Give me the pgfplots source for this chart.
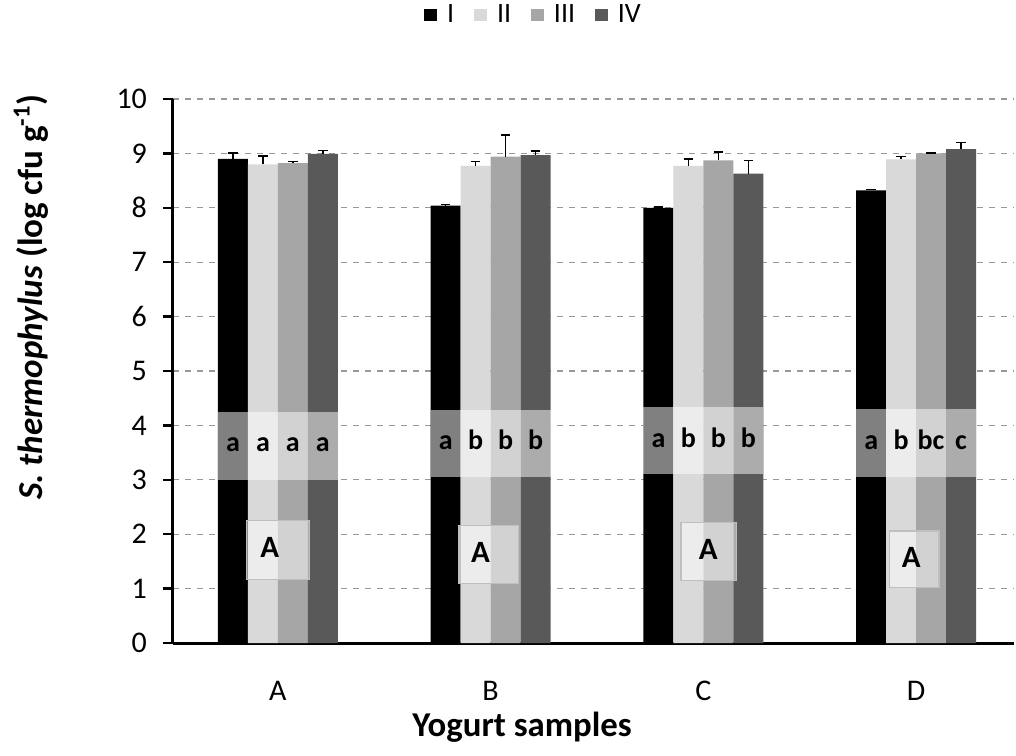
\documentclass[border=0pt]{standalone}
\usepackage{pgfplots}
\pgfplotsset{compat=1.18}
\usepackage{fontspec}
\setmainfont{Carlito}
\definecolor{cI}{HTML}{000000}
\definecolor{cII}{HTML}{D9D9D9}
\definecolor{cIII}{HTML}{A6A6A6}
\definecolor{cIV}{HTML}{595959}
\pgfplotsset{
  mybar/.style={fill=#1, draw=none,
    legend image code/.code={\fill[fill=#1] (0pt,-3.1pt) rectangle (6.4pt,3.3pt);},
    error bars/.cd, y dir=plus, y explicit,
    error bar style={black, line width=0.8pt},
    error mark options={rotate=90, black, mark size=2.4pt, line width=0.8pt}},
}
\begin{document}
\begin{tikzpicture}
\begin{axis}[name=ax, scale only axis, width=420.5pt, height=272pt,
  xmin=-0.493, xmax=3.46, ymin=0, ymax=10,
  ybar=0pt, bar width=15pt,
  xtick={0,1,2,3}, xticklabels={A,B,C,D}, xtick style={draw=none},
  ytick={0,1,...,10},
  ymajorgrids, grid style={dashed, black!40, line width=0.6pt},
  axis x line*=bottom, axis y line*=left,
  axis line style={-, line width=1.5pt},
  tick align=outside, major tick length=5pt,
  ytick style={line width=1.2pt, black},
  tick label style={font=\fontsize{15}{17}\selectfont},
  /pgf/number format/assume math mode=true,
  xticklabel style={yshift=-10.5pt},
  yticklabel style={xshift=-4.5pt},
  xlabel={Yogurt samples},
  xlabel style={font=\fontsize{17.4}{19}\selectfont\bfseries, at={(rel axis cs:0.415,0)}, anchor=center, yshift=-42pt},
  ylabel={\textit{S. thermophylus} (log cfu g\textsuperscript{-1})},
  ylabel style={font=\fontsize{17.5}{19}\selectfont\bfseries, at={(rel axis cs:0,0.636)}, anchor=center, yshift=71pt},
  legend columns=4,
  legend style={at={(rel axis cs:0.430,1.154)}, anchor=center, draw=none, fill=none,
    font=\fontsize{14}{16}\selectfont,
    /tikz/every odd column/.append style={column sep=3pt},
    /tikz/every even column/.append style={column sep=8pt}},
]
\addplot[mybar=cI] coordinates {(0,8.90) +- (0,0.11) (1,8.04) +- (0,0.02) (2,8.00) +- (0,0.02) (3,8.32) +- (0,0.02)};
\addplot[mybar=cII] coordinates {(0,8.80) +- (0,0.15) (1,8.77) +- (0,0.08) (2,8.77) +- (0,0.13) (3,8.89) +- (0,0.05)};
\addplot[mybar=cIII] coordinates {(0,8.82) +- (0,0.03) (1,8.94) +- (0,0.40) (2,8.87) +- (0,0.16) (3,9.00) +- (0,0.01)};
\addplot[mybar=cIV] coordinates {(0,8.99) +- (0,0.06) (1,8.97) +- (0,0.07) (2,8.63) +- (0,0.24) (3,9.08) +- (0,0.12)};
\legend{I,II,III,IV}
% significance bands
\fill[white, opacity=0.5] (axis cs:-0.282,3.00) rectangle (axis cs:0.282,4.25);
\fill[white, opacity=0.5] (axis cs:0.718,3.06) rectangle (axis cs:1.282,4.29);
\fill[white, opacity=0.5] (axis cs:1.718,3.11) rectangle (axis cs:2.282,4.34);
\fill[white, opacity=0.5] (axis cs:2.718,3.06) rectangle (axis cs:3.282,4.30);
\begin{scope}[every node/.style={font=\fontsize{14}{16}\selectfont\bfseries, anchor=base, inner sep=0pt}]
\node at (axis cs:-0.211,3.52) {a};
\node at (axis cs:-0.070,3.52) {a};
\node at (axis cs:0.070,3.52) {a};
\node at (axis cs:0.211,3.52) {a};
\node at (axis cs:0.789,3.56) {a};
\node at (axis cs:0.930,3.56) {b};
\node at (axis cs:1.070,3.56) {b};
\node at (axis cs:1.211,3.56) {b};
\node at (axis cs:1.789,3.60) {a};
\node at (axis cs:1.930,3.60) {b};
\node at (axis cs:2.070,3.60) {b};
\node at (axis cs:2.211,3.60) {b};
\node at (axis cs:2.789,3.56) {a};
\node at (axis cs:2.930,3.56) {b};
\node at (axis cs:3.070,3.56) {bc};
\node at (axis cs:3.211,3.56) {c};
\end{scope}
% group letter boxes
\filldraw[fill=white, fill opacity=0.5, draw=black!25, line width=0.6pt] (axis cs:-0.147,1.16) rectangle (axis cs:0.147,2.25);
\filldraw[fill=white, fill opacity=0.5, draw=black!25, line width=0.6pt] (axis cs:0.851,1.10) rectangle (axis cs:1.131,2.16);
\filldraw[fill=white, fill opacity=0.5, draw=black!25, line width=0.6pt] (axis cs:1.895,1.15) rectangle (axis cs:2.155,2.21);
\filldraw[fill=white, fill opacity=0.5, draw=black!25, line width=0.6pt] (axis cs:2.873,1.02) rectangle (axis cs:3.107,2.06);
\begin{scope}[every node/.style={font=\fontsize{15.5}{17}\selectfont\bfseries, anchor=base, inner sep=0pt}]
\node at (axis cs:-0.038,1.57) {A};
\node at (axis cs:0.953,1.48) {A};
\node at (axis cs:2.023,1.53) {A};
\node at (axis cs:2.977,1.39) {A};
\end{scope}
\end{axis}
\pgfresetboundingbox
\path (ax.south west) ++(-86.5pt,-56pt) rectangle ++(508pt,377.5pt);
\end{tikzpicture}
\end{document}
